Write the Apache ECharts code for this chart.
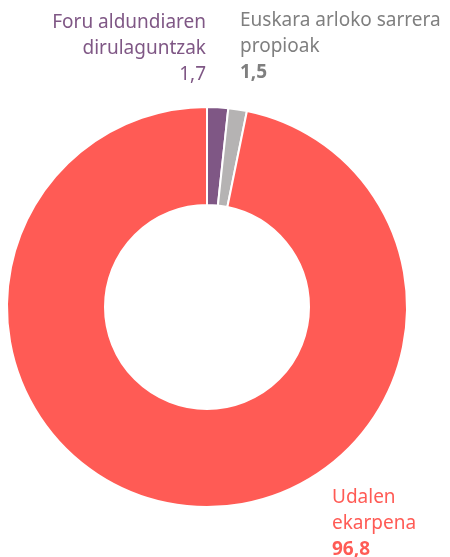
<!DOCTYPE html>
<html>
<head>
<meta charset="utf-8">
<script src="https://cdn.jsdelivr.net/npm/echarts@6/dist/echarts.min.js"></script>
<style>
  html, body { margin: 0; padding: 0; background: #fff; }
  #chart { width: 450px; height: 557px; }
</style>
</head>
<body>
<div id="chart"></div>
<script>
const names = ['Foru aldundiaren\ndirulaguntzak', 'Euskara arloko sarrera\npropioak', 'Udalen\nekarpena'];
const values = [1.7, 1.5, 96.8];
const colors = ['#7f5785', '#b5b3b3', '#ff5b55'];
const labelColors = ['#7f5785', '#7f7f7f', '#ff5b55'];
const valueBold = [false, true, true];

// where each label block sits (x, y, align)
const labelSpots = [
  { x: 206, y: 10, align: 'right' },
  { x: 240, y: 8, align: 'left' },
  { x: 332, y: 485, align: 'left' }
];

const chart = echarts.init(document.getElementById('chart'));

const data = names.map((n, i) => ({
  name: n,
  value: values[i],
  itemStyle: { color: colors[i] },
  label: {
    formatter: p => {
      const v = String(p.value).replace('.', ',');
      const lines = p.name.split('\n').map(l => '{t|' + l + '}');
      lines.push((valueBold[i] ? '{b|' : '{t|') + v + '}');
      return lines.join('\n');
    },
    rich: {
      t: { color: labelColors[i], fontSize: 19, lineHeight: 26, fontFamily: 'Noto Sans', align: labelSpots[i].align },
      b: { color: labelColors[i], fontSize: 19, lineHeight: 26, fontWeight: 'bold', fontFamily: 'Noto Sans', align: labelSpots[i].align }
    }
  }
}));

chart.setOption({
  animation: false,
  series: [{
    type: 'pie',
    center: [207, 307],
    radius: [102, 200],
    startAngle: 90,
    clockwise: true,
    itemStyle: { borderColor: '#fff', borderWidth: 2 },
    label: { show: true, position: 'outside', overflow: 'none', width: 300, edgeDistance: 0 },
    labelLine: { show: false },
    labelLayout: p => ({
      x: labelSpots[p.dataIndex].x,
      y: labelSpots[p.dataIndex].y,
      align: labelSpots[p.dataIndex].align,
      verticalAlign: 'top'
    }),
    data: data
  }]
});
</script>
</body>
</html>
